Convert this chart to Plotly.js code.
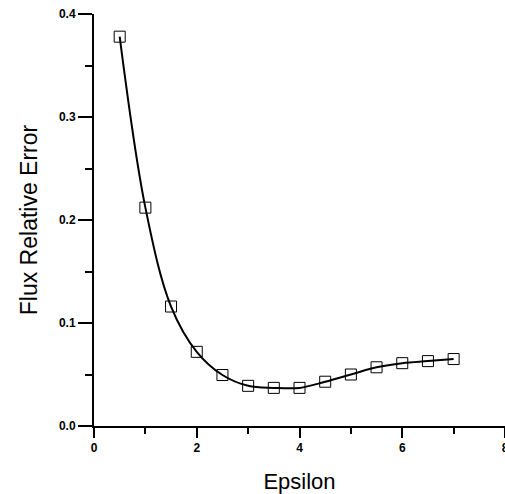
<!DOCTYPE html>
<html><head><meta charset="utf-8">
<script src="https://cdn.plot.ly/plotly-3.0.1.min.js"></script>
<style>html,body{margin:0;padding:0;background:#fff;}#chart{width:505px;height:494px;}#err{position:absolute;left:150px;top:60px;font:12px monospace;white-space:pre-wrap;width:340px;color:#c00;}</style>
</head><body><div id="chart"></div><div id="err"></div>
<script>
window.onerror = function(msg, src, line) { document.getElementById('err').textContent += msg + ' @' + line + '\n'; };

const epsilon = [0.5, 1, 1.5, 2, 2.5, 3, 3.5, 4, 4.5, 5, 5.5, 6, 6.5, 7];
const fluxRelError = [0.378, 0.212, 0.116, 0.072, 0.0495, 0.039, 0.037, 0.037, 0.043, 0.050, 0.057, 0.061, 0.063, 0.065];
const xTicks = [0, 2, 4, 6, 8];
const yTicks = [0.0, 0.1, 0.2, 0.3, 0.4];

const trace = {
  x: epsilon, y: fluxRelError, type: 'scatter', mode: 'lines+markers',
  line: {color: '#000', width: 2, shape: 'spline'},
  marker: {symbol: 'square-open', size: 11, color: '#000'}
};
const tickFont = {family: 'Liberation Sans, Arial, sans-serif', size: 12, color: '#000'};
const layout = {
  width: 505, height: 494,
  margin: {l: 94, r: 0, t: 14, b: 68},
  showlegend: false,
  xaxis: {
    range: [xTicks[0], xTicks[xTicks.length - 1]],
    tickmode: 'array', tickvals: xTicks, ticktext: xTicks.map(v => '<b>' + v + '</b>'),
    ticks: 'outside', ticklen: 10, tickwidth: 2, tickcolor: '#000',
    minor: {tickmode: 'linear', tick0: 0, dtick: 1, ticks: 'outside', ticklen: 6, tickwidth: 2, tickcolor: '#000'},
    showline: true, linecolor: '#000', linewidth: 2, showgrid: false,
    zerolinecolor: '#000', zerolinewidth: 2,
    tickfont: tickFont, ticklabeloverflow: 'allow',
    title: {text: 'Epsilon', font: {family: 'Liberation Sans, Arial, sans-serif', size: 22, color: '#000'}}
  },
  yaxis: {
    range: [yTicks[0], yTicks[yTicks.length - 1]],
    tickmode: 'array', tickvals: yTicks, ticktext: yTicks.map(v => '<b>' + v.toFixed(1) + '</b>'),
    ticks: 'outside', ticklen: 14, tickwidth: 2, tickcolor: '#000',
    minor: {tickmode: 'linear', tick0: 0, dtick: 0.05, ticks: 'outside', ticklen: 7, tickwidth: 2, tickcolor: '#000'},
    showline: true, linecolor: '#000', linewidth: 2, showgrid: false,
    zerolinecolor: '#000', zerolinewidth: 2,
    tickfont: tickFont,
    title: {text: 'Flux Relative Error', font: {family: 'Liberation Sans, Arial, sans-serif', size: 23, color: '#000'}}
  }
};
Plotly.newPlot('chart', [trace], layout, {displayModeBar: false}).catch(function(e){
  document.getElementById('err').textContent += 'promise: ' + e + '\n';
});
</script></body></html>
